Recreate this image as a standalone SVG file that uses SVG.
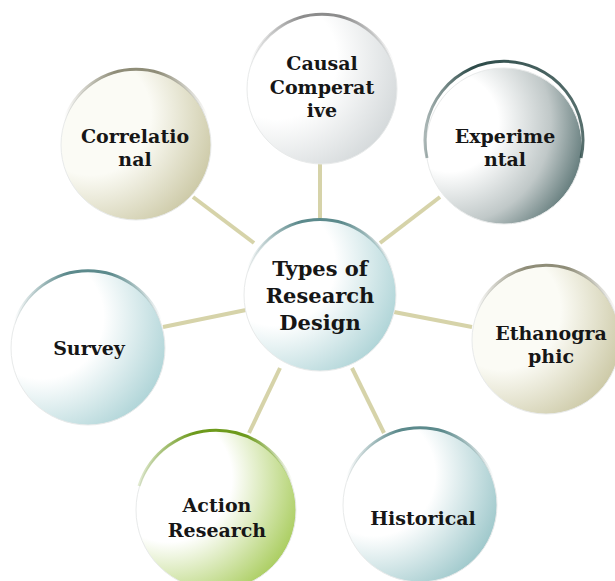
<svg xmlns="http://www.w3.org/2000/svg" width="615" height="581" viewBox="0 0 615 581">
<style>
.lbl{font-family:"DejaVu Serif","Liberation Serif",serif;font-weight:bold;font-size:19px;fill:#161616;text-anchor:middle}
.big{font-size:21px}
.conn line{stroke:#d6d3a9;stroke-width:4;stroke-linecap:butt}
.arc{fill:none;stroke-width:3}
.disc{stroke:#e8eaea;stroke-width:1}
</style>
<defs>
<radialGradient id="g-gray" cx="0.2" cy="0.3" r="1" fx="0.2" fy="0.3"><stop offset="0.4" stop-color="#ffffff"/><stop offset="1" stop-color="#c8ced0"/></radialGradient>
<radialGradient id="g-dark" cx="0.15" cy="0.35" r="1.05" fx="0.15" fy="0.35"><stop offset="0.3" stop-color="#ffffff"/><stop offset="0.62" stop-color="#c0c8c8"/><stop offset="0.95" stop-color="#385858"/></radialGradient>
<radialGradient id="g-teal" cx="0.2" cy="0.3" r="1" fx="0.2" fy="0.3"><stop offset="0.4" stop-color="#ffffff"/><stop offset="1" stop-color="#98c8cc"/></radialGradient>
<radialGradient id="g-teal2" cx="0.2" cy="0.3" r="1" fx="0.2" fy="0.3"><stop offset="0.4" stop-color="#ffffff"/><stop offset="1" stop-color="#82b8bc"/></radialGradient>
<radialGradient id="g-khaki" cx="0.2" cy="0.3" r="1" fx="0.2" fy="0.3"><stop offset="0.4" stop-color="#fbfbf5"/><stop offset="1" stop-color="#bfbb90"/></radialGradient>
<radialGradient id="g-green" cx="0.2" cy="0.3" r="1" fx="0.2" fy="0.3"><stop offset="0.4" stop-color="#ffffff"/><stop offset="1" stop-color="#92bf32"/></radialGradient>
<linearGradient id="a-gray"><stop offset="0" stop-color="#909090" stop-opacity="0"/><stop offset="0.35" stop-color="#8c8c8c"/><stop offset="0.65" stop-color="#8c8c8c"/><stop offset="1" stop-color="#909090" stop-opacity="0"/></linearGradient>
<linearGradient id="a-dark"><stop offset="0" stop-color="#2c4a48" stop-opacity="0.4"/><stop offset="0.3" stop-color="#2c4a48"/><stop offset="1" stop-color="#2c4a48" stop-opacity="0.8"/></linearGradient>
<linearGradient id="a-teal"><stop offset="0" stop-color="#5c8a8c" stop-opacity="0"/><stop offset="0.35" stop-color="#5c8a8c"/><stop offset="0.65" stop-color="#5c8a8c"/><stop offset="1" stop-color="#5c8a8c" stop-opacity="0"/></linearGradient>
<linearGradient id="a-khaki"><stop offset="0" stop-color="#8f8d78" stop-opacity="0"/><stop offset="0.35" stop-color="#8f8d78"/><stop offset="0.65" stop-color="#8f8d78"/><stop offset="1" stop-color="#8f8d78" stop-opacity="0"/></linearGradient>
<linearGradient id="a-green"><stop offset="0" stop-color="#6d9a1c" stop-opacity="0.2"/><stop offset="0.35" stop-color="#6d9a1c"/><stop offset="0.7" stop-color="#6d9a1c"/><stop offset="1" stop-color="#6d9a1c" stop-opacity="0"/></linearGradient>
</defs>
<rect width="615" height="581" fill="#ffffff"/>
<g id="connectors" class="conn">
<line x1="320" y1="163" x2="320" y2="219"/>
<line x1="380" y1="243" x2="440" y2="197"/>
<line x1="193" y1="197" x2="254" y2="243"/>
<line x1="163" y1="327" x2="246" y2="310"/>
<line x1="394" y1="312" x2="472" y2="327"/>
<line x1="280" y1="368" x2="249" y2="433"/>
<line x1="352" y1="368" x2="384" y2="433"/>
</g>
<g id="causal" transform="translate(322,89)">
<circle class="disc" r="75" fill="url(#g-gray)"/>
<path class="arc" stroke="url(#a-gray)" d="M-72,-23 A76,76 0 0 1 72,-23"/>
<text class="lbl" x="0" y="-19">Causal</text>
<text class="lbl" x="0" y="5">Comperat</text>
<text class="lbl" x="0" y="28">ive</text>
</g>
<g id="experimental" transform="translate(504,146)">
<circle class="disc" r="78" fill="url(#g-dark)"/>
<path class="arc" stroke="url(#a-dark)" d="M-77,14 A79,79 0 1 1 77,14" transform="translate(0,-2)"/>
<text class="lbl" x="1" y="-3">Experime</text>
<text class="lbl" x="1" y="20">ntal</text>
</g>
<g id="correlational" transform="translate(136,145)">
<circle class="disc" r="75" fill="url(#g-khaki)"/>
<path class="arc" stroke="url(#a-khaki)" d="M-72,-22 A76,76 0 0 1 72,-22" transform="translate(0,-2)"/>
<text class="lbl" x="-1" y="-2">Correlatio</text>
<text class="lbl" x="-1" y="21">nal</text>
</g>
<g id="survey" transform="translate(88,348)">
<circle class="disc" r="77" fill="url(#g-teal)"/>
<path class="arc" stroke="url(#a-teal)" d="M-74,-22 A78,78 0 0 1 74,-22" transform="translate(0,-2)"/>
<text class="lbl" x="1" y="7">Survey</text>
</g>
<g id="center" transform="translate(320,295)">
<circle class="disc" r="76" fill="url(#g-teal)"/>
<path class="arc" stroke="url(#a-teal)" d="M-73,-22 A77,77 0 0 1 73,-22" transform="translate(0,-1)"/>
<text class="lbl big" x="0" y="-19">Types of</text>
<text class="lbl big" x="0" y="8">Research</text>
<text class="lbl big" x="0" y="35">Design</text>
</g>
<g id="ethanographic" transform="translate(546,340)">
<circle class="disc" r="74" fill="url(#g-khaki)"/>
<path class="arc" stroke="url(#a-khaki)" d="M-71,-22 A75,75 0 0 1 71,-22" transform="translate(0,-2)"/>
<text class="lbl" x="5" y="0">Ethanogra</text>
<text class="lbl" x="5" y="23">phic</text>
</g>
<g id="action-research" transform="translate(216,510)">
<circle class="disc" r="80" fill="url(#g-green)"/>
<path class="arc" stroke="url(#a-green)" d="M-77,-22 A81,81 0 0 1 77,-22" transform="translate(0,-2)"/>
<text class="lbl" x="1" y="2">Action</text>
<text class="lbl" x="1" y="27">Research</text>
</g>
<g id="historical" transform="translate(420,505)">
<circle class="disc" r="77" fill="url(#g-teal2)"/>
<path class="arc" stroke="url(#a-teal)" d="M-74,-22 A78,78 0 0 1 74,-22" transform="translate(0,-2)"/>
<text class="lbl" x="3" y="20">Historical</text>
</g>
</svg>
